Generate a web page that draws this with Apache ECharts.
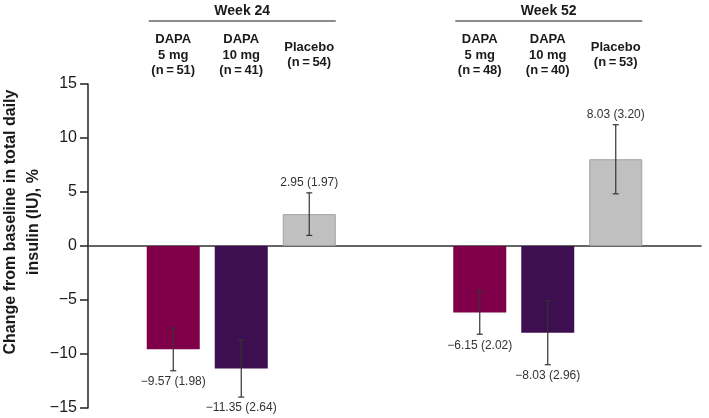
<!DOCTYPE html>
<html>
<head>
<meta charset="utf-8">
<script src="https://cdn.jsdelivr.net/npm/echarts@6/dist/echarts.min.js"></script>
<style>
html,body{margin:0;padding:0;background:#fff;}
#chart{width:709px;height:418px;}
</style>
</head>
<body>
<div id="chart"></div>
<script>
// ---- data ----
const groups = ['Week 24', 'Week 52'];
const armNames = ['DAPA\n5 mg', 'DAPA\n10 mg', 'Placebo'];
const nWeek24 = [51, 41, 54];
const nWeek52 = [48, 40, 53];
const dapa5 = [-9.57, -6.15];
const dapa10 = [-11.35, -8.03];
const placebo = [2.95, 8.03];
const se5 = [1.98, 2.02];
const se10 = [2.64, 2.96];
const sePl = [1.97, 3.20];
const yMin = -15, yMax = 15, yStep = 5;

const colors = ['#7f0049', '#3d0f50', '#c0c0c0'];
const BAR_W = 53, GAP = 15;
const offsets = [-(BAR_W + GAP), 0, BAR_W + GAP];
const fontFam = '"Liberation Sans", Arial, sans-serif';
const minus = s => s.replace('-', '\u2212');

const chart = echarts.init(document.getElementById('chart'));

function errSeries(vals, ses, k) {
  return {
    type: 'custom',
    z: 5,
    data: vals.map((v, i) => [i, v, ses[i]]),
    renderItem: function (params, api) {
      const cat = api.value(0), v = api.value(1), e = api.value(2);
      const x = api.coord([cat, v])[0] + offsets[k];
      const yTop = api.coord([cat, v + e])[1];
      const yBot = api.coord([cat, v - e])[1];
      const cap = 3;
      const st = { stroke: '#333', lineWidth: 1.2 };
      const label = minus(v.toFixed(2)) + ' (' + e.toFixed(2) + ')';
      const pos = v >= 0;
      return {
        type: 'group',
        children: [
          { type: 'line', shape: { x1: x, y1: yTop, x2: x, y2: yBot }, style: st },
          { type: 'line', shape: { x1: x - cap, y1: yTop, x2: x + cap, y2: yTop }, style: st },
          { type: 'line', shape: { x1: x - cap, y1: yBot, x2: x + cap, y2: yBot }, style: st },
          { type: 'text', style: {
              x: x, y: pos ? yTop - 4 : yBot + 5, text: label,
              align: 'center', verticalAlign: pos ? 'bottom' : 'top',
              fill: '#333', font: '12px ' + fontFam } }
        ]
      };
    }
  };
}

const headerSeries = {
  type: 'custom',
  z: 5,
  data: groups.map((g, i) => [i, 0]),
  renderItem: function (params, api) {
    const i = api.value(0);
    const cx = api.coord([i, 0])[0];
    const ns = i === 0 ? nWeek24 : nWeek52;
    const left = cx + offsets[0] - BAR_W / 2 + 2;
    const right = cx + offsets[2] + BAR_W / 2;
    const children = [
      { type: 'text', style: { x: (left + right) / 2, y: 11, text: groups[i], align: 'center', verticalAlign: 'middle',
          fill: '#1a1a1a', font: 'bold 14px ' + fontFam } },
      { type: 'line', shape: { x1: left, y1: 21, x2: right, y2: 21 }, style: { stroke: '#666', lineWidth: 1.5 } }
    ];
    armNames.forEach((a, k) => {
      const txt = a + '\n(n\u2009=\u2009' + ns[k] + ')';
      const lines = txt.split('\n').length;
      children.push({ type: 'text', style: {
        x: cx + offsets[k], y: lines === 3 ? 55 : 55, text: txt, align: 'center', verticalAlign: 'middle',
        lineHeight: 15.5, fill: '#1a1a1a', font: 'bold 13px ' + fontFam } });
    });
    return { type: 'group', children: children };
  }
};

chart.setOption({
  animation: false,
  grid: { left: 88, top: 84, width: 613, height: 324 },
  graphic: [{
    type: 'text',
    rotation: Math.PI / 2,
    x: 22, y: 222,
    style: { text: 'Change from baseline in total daily\ninsulin (IU), %', align: 'center', verticalAlign: 'middle',
      lineHeight: 23, fill: '#1a1a1a', font: 'bold 16px ' + fontFam }
  }],
  xAxis: {
    type: 'category', data: groups,
    axisLine: { onZero: true, lineStyle: { color: '#333', width: 1.5 } },
    axisTick: { show: false }, axisLabel: { show: false }, splitLine: { show: false }
  },
  yAxis: {
    type: 'value', min: yMin, max: yMax, interval: yStep,
    axisLine: { show: true, lineStyle: { color: '#222', width: 1.5 } },
    axisTick: { show: true, inside: false, length: 8, lineStyle: { color: '#222', width: 1.5 } },
    axisLabel: { fontSize: 16, color: '#1a1a1a', fontFamily: fontFam, margin: 11, formatter: v => minus(String(v)) },
    splitLine: { show: false }
  },
  series: [
    { type: 'bar', data: dapa5, barWidth: BAR_W, barGap: (GAP / BAR_W * 100) + '%', itemStyle: { color: colors[0] } },
    { type: 'bar', data: dapa10, barWidth: BAR_W, barGap: (GAP / BAR_W * 100) + '%', itemStyle: { color: colors[1] } },
    { type: 'bar', data: placebo, barWidth: BAR_W, barGap: (GAP / BAR_W * 100) + '%', itemStyle: { color: colors[2], borderColor: '#a0a0a0', borderWidth: 1 } },
    errSeries(dapa5, se5, 0),
    errSeries(dapa10, se10, 1),
    errSeries(placebo, sePl, 2),
    headerSeries
  ]
});
</script>
</body>
</html>
